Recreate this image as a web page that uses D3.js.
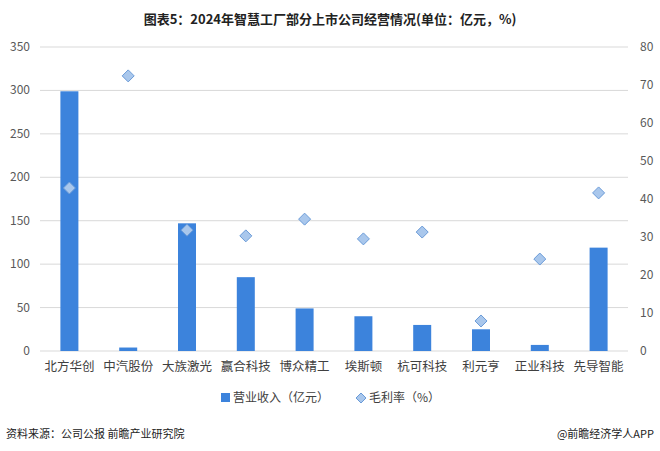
<!DOCTYPE html>
<html><head><meta charset="utf-8">
<script src="https://cdn.jsdelivr.net/npm/d3@7"></script>
<style>body{margin:0;background:#fff;font-family:"Noto Sans CJK SC","Noto Sans",sans-serif}</style>
</head><body><svg id="c" width="660" height="451"></svg>
<script>
const categories=["北方华创","中汽股份","大族激光","赢合科技","博众精工","埃斯顿","杭可科技","利元亨","正业科技","先导智能"];
const revenue=[299,4,147,85,49,40,30,25,7,119];
const margin=[42.9,72.4,31.8,30.3,34.7,29.5,31.3,7.9,24.2,41.6];
const leftTicks=[0,50,100,150,200,250,300,350];
const rightTicks=[0,10,20,30,40,50,60,70,80];
const svg=d3.select("#c");
const L=40,R=628,T=47,B=351;
const x=d3.scaleBand().domain(categories).range([L,R]);
const yl=d3.scaleLinear().domain([0,350]).range([B,T]);
const yr=d3.scaleLinear().domain([0,80]).range([B,T]);
svg.append("text").attr("x",330).attr("y",24).attr("text-anchor","middle").attr("font-size",13).attr("font-weight","bold").attr("fill","#222").text("图表5：2024年智慧工厂部分上市公司经营情况(单位：亿元，%)");
svg.append("g").selectAll("line").data(leftTicks).join("line").attr("x1",L).attr("x2",R).attr("y1",d=>yl(d)).attr("y2",d=>yl(d)).attr("stroke","#d9d9d9");
svg.append("g").selectAll("text").data(leftTicks).join("text").attr("x",L-10).attr("y",d=>yl(d)+4).attr("text-anchor","end").attr("font-size",12).attr("fill","#595959").text(d=>d);
svg.append("g").selectAll("text").data(rightTicks).join("text").attr("x",R+12).attr("y",d=>yr(d)+4).attr("text-anchor","start").attr("font-size",12).attr("fill","#595959").text(d=>d);
svg.append("g").selectAll("rect").data(revenue).join("rect").attr("x",(d,i)=>x(categories[i])+x.bandwidth()/2-9).attr("width",18).attr("y",d=>yl(d)).attr("height",d=>B-yl(d)).attr("fill","#3c83dc");
svg.append("g").selectAll("text").data(categories).join("text").attr("x",d=>x(d)+x.bandwidth()/2).attr("y",B+20).attr("text-anchor","middle").attr("font-size",12.5).attr("fill","#404040").text(d=>d);
svg.append("g").selectAll("path").data(margin).join("path").attr("transform",(d,i)=>`translate(${x(categories[i])+x.bandwidth()/2},${yr(d)})`).attr("d","M0,-6L6,0L0,6L-6,0Z").attr("fill","#a9c7ec").attr("stroke","#6a9bd8").attr("stroke-width",1);
const lg=svg.append("g");
lg.append("rect").attr("x",221).attr("y",393).attr("width",9).attr("height",9).attr("fill","#3c83dc");
lg.append("text").attr("x",233).attr("y",402).attr("font-size",12).attr("fill","#404040").text("营业收入（亿元）");
lg.append("path").attr("transform","translate(361,398)").attr("d","M0,-5L5,0L0,5L-5,0Z").attr("fill","#a9c7ec").attr("stroke","#6a9bd8");
lg.append("text").attr("x",369).attr("y",402).attr("font-size",12).attr("fill","#404040").text("毛利率（%）");
svg.append("text").attr("x",6).attr("y",438).attr("font-size",11).attr("fill","#222").text("资料来源：公司公报 前瞻产业研究院");
svg.append("text").attr("x",654).attr("y",438).attr("text-anchor","end").attr("font-size",11).attr("fill","#222").text("@前瞻经济学人APP");
</script></body></html>
